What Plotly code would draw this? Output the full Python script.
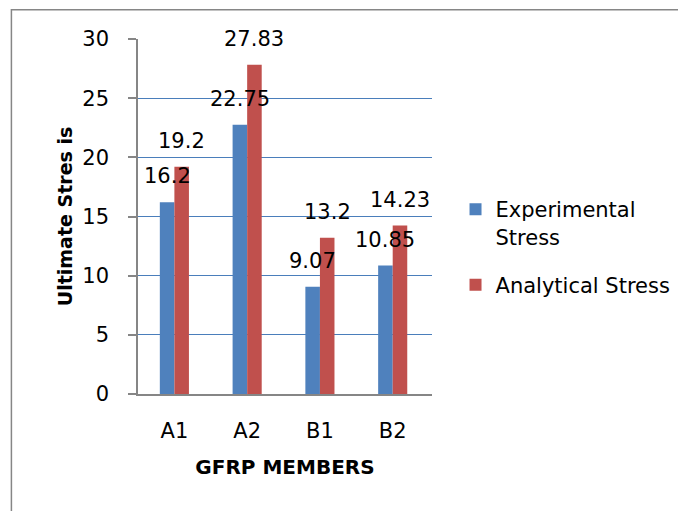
import plotly.graph_objects as go

categories = ["A1", "A2", "B1", "B2"]
experimental = [16.2, 22.75, 9.07, 10.85]
analytical = [19.2, 27.83, 13.2, 14.23]
series_names = ["Experimental<br>Stress", "Analytical Stress"]
y_ticks = [0, 5, 10, 15, 20, 25, 30]

FONT = "DejaVu Sans"
FS = 21
BLUE = "#4F81BD"
RED = "#C0504D"
GRID = "#4A7EBB"
AXIS = "#868686"

fig = go.Figure()
fig.add_trace(go.Bar(x=categories, y=experimental, name=series_names[0],
                     legendgroup="exp",
                     marker=dict(color=BLUE, line=dict(width=0))))
fig.add_trace(go.Bar(x=categories, y=analytical, name=series_names[1],
                     legendgroup="ana",
                     marker=dict(color=RED, line=dict(width=0))))

annotations = []
for vals, shift in ((experimental, -7.3), (analytical, 7.3)):
    for c, v in zip(categories, vals):
        annotations.append(dict(x=c, y=v, xref="x", yref="y", text=f"{v:g}",
                                showarrow=False, xshift=shift, yshift=26,
                                yanchor="middle", xanchor="center",
                                font=dict(family=FONT, size=FS, color="black")))

fig.update_layout(
    width=686, height=511,
    margin=dict(l=130, r=262, t=31, b=125),
    paper_bgcolor="white", plot_bgcolor="white",
    font=dict(family=FONT, size=FS, color="black"),
    barmode="group", bargap=0.6, bargroupgap=0,
    annotations=annotations,
    showlegend=True,
    legend=dict(x=1.08, y=0.414, xanchor="left", yanchor="middle",
                font=dict(family=FONT, size=FS), itemwidth=30, valign="top",
                bgcolor="rgba(0,0,0,0)", tracegroupgap=18),
    shapes=[dict(type="rect", xref="paper", yref="paper",
                 x0=-0.4306, x1=2.0, y0=-1.0, y1=1.0826,
                 line=dict(color=AXIS, width=1.5), layer="below")],
    xaxis=dict(showline=True, linecolor=AXIS, linewidth=1.5, ticks="",
               showgrid=False, ticklabelstandoff=17,
               title=dict(text="<b>GFRP MEMBERS</b>", standoff=18,
                          font=dict(family=FONT, size=20))),
    yaxis=dict(range=[0, 30], tickvals=y_ticks, showline=True, linecolor=AXIS,
               linewidth=1.5, ticks="outside", ticklen=8, tickcolor=AXIS,
               tickwidth=1.5, showgrid=True, gridcolor=GRID, gridwidth=1.2,
               zeroline=False, ticklabelstandoff=15,
               title=dict(text="<b>Ultimate Stres is</b>", standoff=5,
                          font=dict(family=FONT, size=19))),
)

fig.write_html("out.html")
